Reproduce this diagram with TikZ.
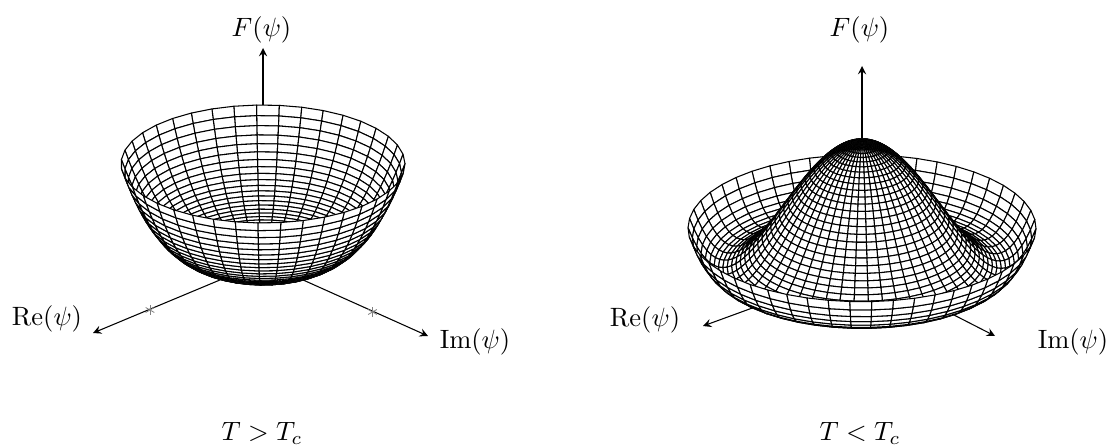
\documentclass[tikz,border=0pt]{standalone}
\usepackage{tikz}
\tikzset{
  >=stealth,
  meshcell/.style={draw=black,fill=white,line width=0.4pt,line join=round},
  axisline/.style={->,line width=0.4pt},
  ticksign/.style={draw=gray,line width=0.3pt},
  lab/.style={inner sep=0pt,anchor=base}
}
\newcommand{\ringtable}[3]{% N, Cy, H ; uses \surffun (of \rr)
  \foreach \i in {0,...,#1}{%
    \pgfmathsetmacro\rr{\i/#1}%
    \pgfmathsetmacro\zz{#2-#3*(\surffun)}%
    \expandafter\xdef\csname ringR\i\endcsname{\rr}%
    \expandafter\xdef\csname ringZ\i\endcsname{\zz}%
  }%
}
\newcommand{\meshquad}[1]{% ring index; global previous point pair
  \edef\rr{\csname ringR#1\endcsname}%
  \edef\zz{\csname ringZ#1\endcsname}%
  \pgfmathsetmacro\xa{\Cx+\Ax*\rr*\sa}%
  \pgfmathsetmacro\ya{\zz+\By*\rr*\ca}%
  \pgfmathsetmacro\xb{\Cx+\Ax*\rr*\sb}%
  \pgfmathsetmacro\yb{\zz+\By*\rr*\cb}%
  \ifnum\havePrev=1
    \path[meshcell] (\pxa,\pya)--(\pxb,\pyb)--(\xb,\yb)--(\xa,\ya)--cycle;
  \fi
  \global\let\pxa\xa\global\let\pya\ya\global\let\pxb\xb\global\let\pyb\yb
  \gdef\havePrev{1}%
}
\newcommand{\meshsector}[2]{% k, N
  \pgfmathsetmacro\pa{\Pz+\Dp*#1}%
  \pgfmathsetmacro\pb{\pa+\Dp}%
  \pgfmathsetmacro\sa{sin(\pa)}\pgfmathsetmacro\ca{cos(\pa)}%
  \pgfmathsetmacro\sb{sin(\pb)}\pgfmathsetmacro\cb{cos(\pb)}%
  \pgfmathsetmacro\cmid{\ca+\cb}%
  \gdef\havePrev{0}%
  \ifdim\cmid pt<0pt
    \foreach \i in {#2,...,0}{\meshquad{\i}}%
  \else
    \foreach \i in {0,...,#2}{\meshquad{\i}}%
  \fi
}
\begin{document}
\begin{tikzpicture}[x=0.3774pt,y=-0.3774pt]
\useasboundingbox (0,0) rectangle (1110,445);
% ---- left: T > Tc
\coordinate (oL) at (263,262);
\coordinate (fL) at (263,48);
\coordinate (reL) at (93,333);
\coordinate (imL) at (428,336);
\draw[axisline] (oL) -- (fL);
\draw[axisline] (oL) -- (reL);
\draw[axisline] (oL) -- (imL);
\coordinate (tkA) at (150,310);
\coordinate (tkB) at (372.5,312);
\foreach \t in {tkA,tkB}{
  \foreach \a in {90,30,150}{
    \draw[ticksign] (\t) ++(\a:5) -- ++(\a+180:10);
  }
}
\def\surffun{0.1*\rr*\rr+0.9*\rr*\rr*\rr*\rr}
\def\Cx{263}\def\Ax{142}\def\By{59}\def\Pz{-2}\def\Dp{9.23077}
\ringtable{40}{263.6}{99.6}
\foreach \k in {19,20,...,38}{\meshsector{\k}{40}}
\foreach \k in {18,17,...,0}{\meshsector{\k}{40}}
\node[lab] (fLlab) at (261.5,37) {$F(\psi)$};
\node[lab] (reLlab) at (47,326) {$\mathrm{Re}(\psi)$};
\node[lab] (imLlab) at (475,349) {$\mathrm{Im}(\psi)$};
\node[lab] (tL) at (262,441) {$T>T_c$};
% ---- right: T < Tc
\coordinate (oR) at (862,268);
\coordinate (fR) at (862,66);
\coordinate (reR) at (703,326);
\coordinate (imR) at (995,336);
\draw[axisline] (oR) -- (fR);
\draw[axisline] (oR) -- (reR);
\draw[axisline] (oR) -- (imR);
\def\surffun{(\rr*\rr-0.64)*(\rr*\rr-0.64)}
\def\Cx{862}\def\Ax{174}\def\By{73.5}\def\Pz{-4}\def\Dp{7.2}
\ringtable{40}{268}{307}
\foreach \k in {25,26,...,49}{\meshsector{\k}{40}}
\foreach \k in {24,23,...,0}{\meshsector{\k}{40}}
\node[lab] (fRlab) at (859.5,37) {$F(\psi)$};
\node[lab] (reRlab) at (645,327) {$\mathrm{Re}(\psi)$};
\node[lab] (imRlab) at (1073,349) {$\mathrm{Im}(\psi)$};
\node[lab] (tR) at (860,441) {$T<T_c$};
\end{tikzpicture}
\end{document}
